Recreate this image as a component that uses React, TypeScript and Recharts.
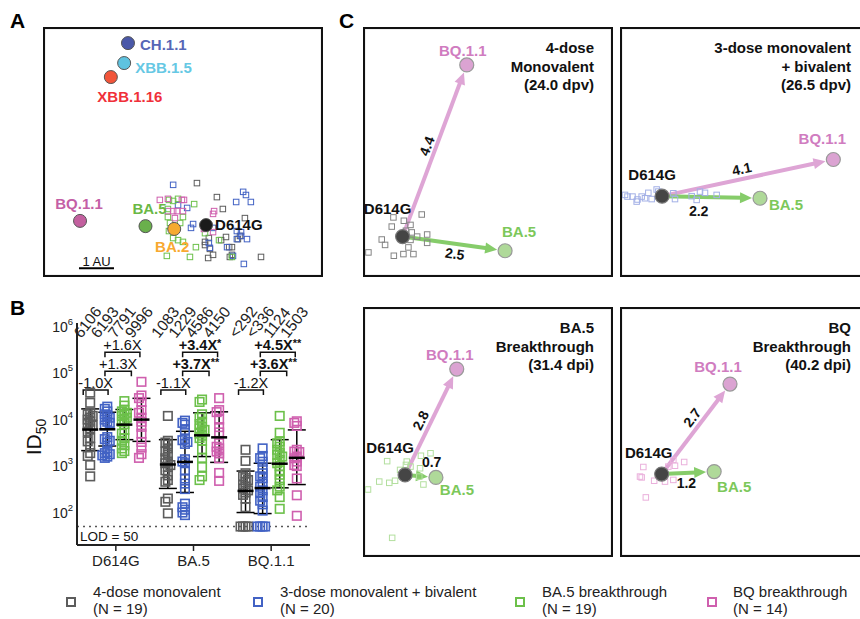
import React from "react";
import { ScatterChart, Scatter, XAxis, YAxis, CartesianGrid, ReferenceLine, ErrorBar } from "recharts";

const FONT = "'Liberation Sans', Arial, Helvetica, sans-serif";

// ---------- panel A: antigenic map (antigenic units) ----------
const mapAntigens = ["CH.1.1", "XBB.1.5", "XBB.1.16", "BQ.1.1", "BA.5", "BA.2", "D614G"];
const mapAntigenX = [1.4, 1.29, 0.91, 0.03, 1.9, 2.72, 3.63];
const mapAntigenY = [6.54, 5.97, 5.57, 1.46, 1.31, 1.23, 1.34];

const mapMonoSera = [[3.37, 2.54], [3.94, 2.14], [4.11, 1.8], [4.74, 1.54], [3.71, 0.97], [3.6, 0.77], [4.06, 0.91], [4.2, 1.0], [4.54, 0.94], [4.29, 0.71], [4.37, 0.71], [3.83, 0.49], [3.69, 0.4], [4.37, 0.49], [4.31, 0.43], [5.2, 0.43], [3.6, 0.86], [3.74, 0.66], [4.6, 1.03]];
const mapBiSera = [[2.69, 2.49], [3.09, 1.83], [3.26, 1.37], [3.2, 1.26], [4.49, 2.0], [4.69, 2.29], [4.77, 2.2], [4.91, 2.0], [4.51, 1.17], [4.63, 1.03], [4.8, 0.94], [4.51, 0.94], [3.71, 0.83], [3.74, 0.69], [4.4, 0.46], [4.71, 0.23], [3.83, 1.26], [2.83, 1.91], [4.63, 1.14], [4.23, 0.71]];
const mapBa5Sera = [[2.57, 2.06], [2.69, 2.03], [2.83, 2.09], [3.29, 1.94], [2.54, 1.8], [2.54, 1.57], [2.6, 1.4], [2.89, 1.4], [2.97, 1.57], [2.57, 1.17], [2.69, 0.97], [2.83, 0.91], [2.97, 0.86], [3.34, 0.71], [3.17, 0.43], [2.51, 0.46], [3.6, 1.11], [4.0, 0.91], [4.37, 0.43]];
const mapBqSera = [[2.31, 2.06], [2.54, 2.09], [2.94, 2.06], [3.0, 2.06], [2.54, 1.74], [2.69, 1.74], [2.8, 1.74], [2.97, 1.74], [2.74, 1.54], [3.86, 1.74], [3.83, 1.66], [3.57, 1.23], [3.83, 1.14], [2.74, 1.26]];

// ---------- panel B: ID50 titers ----------
const categories = ["D614G", "BA.5", "BQ.1.1"];
const groups = ["4-dose monovalent", "3-dose monovalent + bivalent", "BA.5 breakthrough", "BQ breakthrough"];
const groupN = [19, 20, 19, 14];

const monoTiters = [
  [38000, 23000, 14000, 13000, 12000, 11000, 10000, 9000, 8000, 7500, 6500, 5500, 4000, 3400, 2600, 1900, 1650, 1050, 600],
  [12000, 3500, 3200, 2900, 2400, 2050, 1740, 1470, 1250, 1150, 1050, 950, 810, 630, 500, 460, 200, 170, 96],
  [2240, 1290, 700, 600, 550, 500, 450, 400, 360, 330, 300, 270, 240, 200, 130, 50, 50, 50, 50],
];
const biTiters = [
  [19000, 17000, 15000, 13000, 12000, 11000, 10000, 9000, 8500, 7500, 4200, 3800, 3500, 3200, 2000, 1900, 1800, 1700, 1600, 1500],
  [9500, 8500, 7800, 6000, 3800, 3600, 3300, 3000, 1400, 1250, 1150, 800, 540, 420, 320, 155, 130, 115, 100, 88],
  [2400, 1650, 1480, 1240, 900, 700, 600, 550, 420, 360, 300, 260, 215, 180, 150, 110, 50, 50, 50, 50],
];
const ba5Titers = [
  [25000, 20000, 16000, 15000, 14000, 13000, 12000, 11000, 10000, 9000, 8000, 6000, 5000, 4000, 3500, 2800, 2400, 2100, 1900],
  [27000, 24000, 13000, 11000, 9000, 8000, 7000, 6500, 6000, 5500, 5000, 4500, 4000, 3500, 2300, 1500, 950, 600, 500],
  [12000, 5200, 3400, 3100, 2600, 2240, 1900, 1750, 1600, 1350, 1150, 1000, 810, 650, 500, 360, 300, 215, 120],
];
const bqTiters = [
  [65000, 33000, 29000, 24000, 16000, 14000, 11000, 9000, 7000, 5000, 3300, 2500, 1800, 1500],
  [29000, 16000, 14500, 10000, 6900, 5300, 3100, 2600, 2400, 2050, 1870, 1470, 710, 480],
  [9200, 8500, 7300, 2240, 2050, 2000, 1600, 1470, 1250, 1050, 1000, 540, 235, 85],
];

const gmtLabels = [["6106", "6193", "7791", "9996"], ["1083", "1229", "4586", "4150"], ["<292", "<336", "1124", "1503"]];
const gmtValues = [[6106, 6193, 7791, 9996], [1083, 1229, 4586, 4150], [292, 336, 1124, 1503]];
const sdLow = [[2150, 2700, 3700, 3400], [330, 270, 1600, 1200], [100, 95, 340, 400]];
const sdHigh = [[17000, 14400, 16500, 28700], [3700, 5600, 14000, 14700], [780, 1150, 3700, 6000]];

const foldLabels = [["-1.0X", "+1.3X", "+1.6X"], ["-1.1X", "+3.7X", "+3.4X"], ["-1.2X", "+3.6X", "+4.5X"]];
const foldStars = [["", "", ""], ["", "**", "*"], ["", "**", "**"]];
const lod = 50;

// ---------- panel C: per-cohort maps ----------
const cAntigens = ["D614G", "BQ.1.1", "BA.5"];
const monoMapX = [0.95, 2.49, 3.41];
const monoMapY = [0.97, 5.09, 0.63];
const biMapX = [1.01, 5.12, 3.36];
const biMapY = [1.94, 2.82, 1.89];
const ba5MapX = [1.01, 2.25, 1.75];
const ba5MapY = [1.97, 4.51, 1.91];
const bqMapX = [1.0, 2.64, 2.26];
const bqMapY = [1.99, 4.15, 2.05];
const monoDist = ["4.4", "2.5"];
const biDist = ["4.1", "2.2"];
const ba5Dist = ["2.8", "0.7"];
const bqDist = ["2.7", "1.2"];

const monoMapSera = [[0.73, 1.43], [0.98, 1.35], [0.69, 1.21], [1.14, 1.25], [1.41, 1.5], [1.17, 1.07], [1.54, 1.02], [0.45, 0.9], [0.53, 0.77], [1.54, 0.82], [1.14, 0.89], [1.09, 0.71], [1.21, 0.55], [0.97, 0.55], [0.74, 0.51], [0.13, 0.59], [1.3, 0.97], [1.03, 1.11]];
const biMapSera = [[0.12, 1.97], [0.18, 1.93], [0.3, 1.93], [0.42, 1.86], [0.52, 1.93], [0.68, 2.02], [0.76, 1.87], [0.88, 2.1], [0.92, 2.05], [1.32, 1.87], [1.72, 1.94], [1.84, 1.85], [1.92, 2.05], [2.04, 2.02], [2.32, 1.97], [0.4, 1.81], [0.6, 1.89], [1.28, 2.01]];
const ba5MapSera = [[0.58, 2.3], [1.05, 2.29], [0.89, 2.09], [1.39, 2.43], [1.62, 2.49], [1.37, 2.13], [1.14, 2.17], [0.39, 1.81], [0.63, 1.78], [0.77, 1.83], [0.12, 1.62], [1.45, 1.74], [1.35, 1.93], [0.7, 0.46], [1.03, 2.21]];
const bqMapSera = [[0.56, 2.16], [1.54, 2.28], [1.32, 2.19], [1.16, 2.17], [0.48, 1.93], [0.52, 1.91], [0.82, 1.83], [1.08, 1.81], [1.28, 1.85], [0.62, 1.43], [1.28, 2.33]];

// ---------- styles ----------
const groupColors = ["#5c5c5c", "#4262c4", "#6cc04a", "#cf5fae"];
const groupOffsets = [-0.33, -0.11, 0.11, 0.33];

const mapStyle: Record<string, any> = {
  "CH.1.1": { fill: "#4a58a8", text: "#5666b6", dx: 12, dy: 7, anchor: "start" },
  "XBB.1.5": { fill: "#5ec3e0", text: "#66c8e4", dx: 11, dy: 10, anchor: "start" },
  "XBB.1.16": { fill: "#f2553a", text: "#f0303a", dx: 19, dy: 25, anchor: "middle" },
  "BQ.1.1": { fill: "#c3609f", text: "#c45fa6", dx: -1, dy: -12, anchor: "middle" },
  "BA.5": { fill: "#6ab04c", text: "#6ab845", dx: 4, dy: -12, anchor: "middle" },
  "BA.2": { fill: "#f5aa30", text: "#f8a930", dx: -2, dy: 23, anchor: "middle" },
  D614G: { fill: "#1b1b1b", text: "#111", dx: 9, dy: 5, anchor: "start" },
};

const cCircle: Record<string, any> = {
  D614G: { fill: "#454545", stroke: "#777", text: "#111" },
  "BQ.1.1": { fill: "#dba3d2", stroke: "#999", text: "#d07cc0" },
  "BA.5": { fill: "#afd999", stroke: "#999", text: "#7cc85a" },
};
const arrowColors = ["#dea5d5", "#86cc6a"];

const toPts = (arr: number[][]) => arr.map(([x, y]) => ({ x, y }));

const square = (color: string, size: number, sw: number) => (p: any) => {
  const { cx, cy } = p;
  if (cx == null || cy == null) return null;
  return <rect x={cx - size / 2} y={cy - size / 2} width={size} height={size} fill="none" stroke={color} strokeWidth={sw} />;
};

// simple deterministic swarm so squares in a column don't sit exactly on top of each other
function swarm(values: number[], base: number) {
  const placed: { k: number; l: number }[] = [];
  const out: any[] = new Array(values.length);
  const order = values.map((_, i) => i).sort((a, b) => values[b] - values[a]);
  for (const i of order) {
    const l = Math.log10(values[i]);
    let k0 = 0;
    for (const k of [0, -1, 1, -2, 2]) {
      if (!placed.some((p) => p.k === k && Math.abs(p.l - l) < 0.08)) {
        k0 = k;
        break;
      }
    }
    placed.push({ k: k0, l });
    out[i] = { x: base + k0 * 0.032, y: values[i] };
  }
  return out;
}

// ---------- panel A ----------
function PanelA() {
  const antigens = mapAntigens.map((name, i) => ({ name, x: mapAntigenX[i], y: mapAntigenY[i] }));
  const sera = [mapMonoSera, mapBiSera, mapBa5Sera, mapBqSera];
  const antigenShape = (p: any) => {
    const s = mapStyle[p.payload.name];
    return (
      <g>
        <circle cx={p.cx} cy={p.cy} r={6.5} fill={s.fill} stroke="#555" strokeWidth={1} />
        <text x={p.cx + s.dx} y={p.cy + s.dy} textAnchor={s.anchor} fill={s.text} fontSize={15} fontWeight={700} fontFamily={FONT}>
          {p.payload.name}
        </text>
      </g>
    );
  };
  const scaleBar = (p: any) => (
    <g>
      <line x1={p.x1} y1={p.y1} x2={p.x2} y2={p.y2} stroke="#000" strokeWidth={2} />
      <text x={(p.x1 + p.x2) / 2} y={p.y1 - 2} textAnchor="middle" fontSize={13} fontFamily={FONT} fill="#111">1 AU</text>
    </g>
  );
  return (
    <div style={{ position: "absolute", left: 43, top: 27, width: 280, height: 250, border: "2px solid #111", boxSizing: "border-box" }}>
      <ScatterChart width={276} height={246} margin={{ top: 0, right: 0, bottom: 0, left: 0 }}>
        <CartesianGrid stroke="#e3e3e3" />
        <XAxis type="number" dataKey="x" domain={[-0.971, 6.914]} ticks={[0, 1, 2, 3, 4, 5, 6]} height={0} tick={false} axisLine={false} tickLine={false} allowDataOverflow />
        <YAxis type="number" dataKey="y" domain={[-0.086, 6.943]} ticks={[0, 1, 2, 3, 4, 5, 6]} width={0} tick={false} axisLine={false} tickLine={false} allowDataOverflow />
        <ReferenceLine segment={[{ x: 0, y: 0.11 }, { x: 1, y: 0.11 }]} shape={scaleBar} />
        {sera.map((s, g) => (
          <Scatter key={g} data={toPts(s)} shape={square(groupColors[g], 5.5, 1)} isAnimationActive={false} />
        ))}
        <Scatter data={antigens} shape={antigenShape} isAnimationActive={false} />
      </ScatterChart>
    </div>
  );
}

// ---------- panel B ----------
const YTick = (p: any) => {
  const { x, y, payload } = p;
  const v = payload.value;
  if (v === lod) return <line x1={x - 1} x2={x + 4} y1={y} y2={y} stroke="#111" strokeWidth={2.5} />;
  const e = Math.round(Math.log10(v));
  return (
    <text x={x} y={y} textAnchor="end" fontFamily={FONT} fill="#222">
      <tspan fontSize={14} dy={5}>10</tspan>
      <tspan fontSize={9.5} dy={-7}>{e}</tspan>
    </text>
  );
};

const bracketLevels = [43600, 110000, 282000];
const bracketSpans = [[-0.42, -0.1], [-0.14, 0.2], [-0.14, 0.31]];

function PanelB() {
  const titers = [monoTiters, biTiters, ba5Titers, bqTiters];
  const seriesData = titers.map((byCat, g) => byCat.flatMap((vals, c) => swarm(vals, c + groupOffsets[g])));
  const meanData = gmtValues.flatMap((row, c) =>
    row.map((m, g) => ({ x: c + groupOffsets[g], y: m, err: [m - sdLow[c][g], sdHigh[c][g] - m], label: gmtLabels[c][g] }))
  );
  const meanShape = (p: any) => {
    const { cx, cy, payload } = p;
    const lx = cx - 9;
    const ly = 39;
    return (
      <g>
        <line x1={cx - 8} x2={cx + 8} y1={cy} y2={cy} stroke="#000" strokeWidth={2.5} />
        <text x={lx} y={ly} transform={`rotate(-52 ${lx} ${ly})`} fontSize={15.5} fontFamily={FONT} fill="#222">{payload.label}</text>
      </g>
    );
  };
  const bracketShape = (label: string, stars: string) => (p: any) => {
    const { x1, y1, x2 } = p;
    const bold = stars.length > 0;
    return (
      <g>
        <path d={`M${x1},${y1 + 5}V${y1}H${x2}V${y1 + 5}`} fill="none" stroke="#111" strokeWidth={1.5} />
        <text x={(x1 + x2) / 2} y={y1 - 2} textAnchor="middle" fontSize={14.5} fontWeight={bold ? 700 : 400} fontFamily={FONT} fill="#111">
          {label}
          {stars && <tspan fontSize={11} dy={-3}>{stars}</tspan>}
        </text>
      </g>
    );
  };
  return (
    <div style={{ position: "absolute", left: 0, top: 300 }}>
      <ScatterChart width={330} height={280} margin={{ top: 23, right: 20, bottom: 0, left: 0 }}>
        <XAxis
          type="number"
          dataKey="x"
          domain={[-0.5, 2.5]}
          ticks={[0, 1, 2]}
          tickFormatter={(v: number) => categories[v]}
          axisLine={{ stroke: "#222", strokeWidth: 2 }}
          tickLine={{ stroke: "#222", strokeWidth: 1.5 }}
          tickSize={6}
          tickMargin={4}
          height={35}
          tick={{ fill: "#222", fontSize: 15, fontFamily: FONT }}
        />
        <YAxis
          type="number"
          dataKey="y"
          scale="log"
          domain={[20, 1200000]}
          ticks={[lod, 100, 1000, 10000, 100000, 1000000]}
          width={77}
          tick={<YTick />}
          tickLine={false}
          tickSize={0}
          tickMargin={4}
          axisLine={{ stroke: "#222", strokeWidth: 2 }}
        />
        <ReferenceLine y={lod} stroke="#555" strokeDasharray="2 4" strokeWidth={1.5} />
        {foldLabels.flatMap((row, c) =>
          row.map((lab, k) => (
            <ReferenceLine
              key={`${c}-${k}`}
              segment={[{ x: c + bracketSpans[k][0], y: bracketLevels[k] }, { x: c + bracketSpans[k][1], y: bracketLevels[k] }]}
              shape={bracketShape(lab, foldStars[c][k])}
            />
          ))
        )}
        {seriesData.map((d, g) => (
          <Scatter key={g} data={d} shape={square(groupColors[g], 8.5, 1.6)} isAnimationActive={false} />
        ))}
        <Scatter data={meanData} shape={meanShape} isAnimationActive={false}>
          <ErrorBar dataKey="err" direction="y" width={9} stroke="#000" strokeWidth={1.5} />
        </Scatter>
      </ScatterChart>
      <div style={{ position: "absolute", left: 35, top: 137, transform: "translate(-50%,-50%) rotate(-90deg)", fontSize: 21, fontFamily: FONT, color: "#111", whiteSpace: "nowrap" }}>
        ID<span style={{ fontSize: 14, verticalAlign: -5 }}>50</span>
      </div>
      <div style={{ position: "absolute", left: 80, top: 229, fontSize: 13.5, fontFamily: FONT, color: "#111" }}>LOD = 50</div>
    </div>
  );
}

// ---------- panel C ----------
const cPanels = [
  { left: 363, top: 27, xs: monoMapX, ys: monoMapY, sera: monoMapSera, dist: monoDist, seraColor: "#858585", title: ["4-dose", "Monovalent", "(24.0 dpv)"], lab: [[-15, -28], [-4, -14], [14, -19]], arr: [{ off: 9, along: 1.6, rot: true }, { off: -10, along: 2.4, rot: true }] },
  { left: 620, top: 27, xs: biMapX, ys: biMapY, sera: biMapSera, dist: biDist, seraColor: "#a3b0e6", title: ["3-dose monovalent", "+ bivalent", "(26.5 dpv)"], lab: [[-10, -22], [-11, -21], [26, 6]], arr: [{ off: 10, along: -4, rot: true }, { off: -14, along: -12, rot: true }] },
  { left: 363, top: 307, xs: ba5MapX, ys: ba5MapY, sera: ba5MapSera, dist: ba5Dist, seraColor: "#b3df9e", title: ["BA.5", "Breakthrough", "(31.4 dpi)"], lab: [[-15, -27], [-7, -15], [21, 12]], arr: [{ off: 10, along: -3, rot: true }, { off: 15, along: 10, rot: false }] },
  { left: 620, top: 307, xs: bqMapX, ys: bqMapY, sera: bqMapSera, dist: bqDist, seraColor: "#eab0dc", title: ["BQ", "Breakthrough", "(40.2 dpi)"], lab: [[-13, -22], [-12, -18], [20, 15]], arr: [{ off: 10, along: 7, rot: true }, { off: -10.5, along: -2, rot: false }] },
];

const arrowShape = (color: string, text: string, s: any) => (p: any) => {
  const { x1, y1, x2, y2 } = p;
  if ([x1, y1, x2, y2].some((v) => v == null || Number.isNaN(v))) return null;
  const dx = x2 - x1;
  const dy = y2 - y1;
  const len = Math.hypot(dx, dy) || 1;
  const ux = dx / len;
  const uy = dy / len;
  const nx = uy;
  const ny = -ux;
  const tx = x2 - ux * 8;
  const ty = y2 - uy * 8;
  const bx = tx - ux * 12;
  const by = ty - uy * 12;
  const mx = (x1 + x2) / 2 + ux * s.along + nx * s.off;
  const my = (y1 + y2) / 2 + uy * s.along + ny * s.off;
  const ang = s.rot ? (Math.atan2(dy, dx) * 180) / Math.PI : 0;
  return (
    <g>
      <line x1={x1} y1={y1} x2={bx + ux * 2} y2={by + uy * 2} stroke={color} strokeWidth={4} />
      <polygon points={`${tx},${ty} ${bx + nx * 5.5},${by + ny * 5.5} ${bx - nx * 5.5},${by - ny * 5.5}`} fill={color} />
      <text x={mx} y={my} transform={`rotate(${ang} ${mx} ${my})`} textAnchor="middle" dominantBaseline="central" fontSize={14} fontWeight={700} fontFamily={FONT} fill="#111">
        {text}
      </text>
    </g>
  );
};

function MapPanel({ cfg }: { cfg: any }) {
  const antigens = cAntigens.map((name, i) => ({ name, x: cfg.xs[i], y: cfg.ys[i], i }));
  const circleShape = (p: any) => {
    const st = cCircle[p.payload.name];
    const [dx, dy] = cfg.lab[p.payload.i];
    return (
      <g>
        <circle cx={p.cx} cy={p.cy} r={7} fill={st.fill} stroke={st.stroke} strokeWidth={1.2} />
        <text x={p.cx + dx} y={p.cy + dy} textAnchor="middle" dominantBaseline="central" fill={st.text} fontSize={15} fontWeight={700} fontFamily={FONT}>
          {p.payload.name}
        </text>
      </g>
    );
  };
  return (
    <div style={{ position: "absolute", left: cfg.left, top: cfg.top, width: 250, height: 250, border: "2px solid #111", boxSizing: "border-box" }}>
      <ScatterChart width={246} height={246} margin={{ top: 0, right: 0, bottom: 0, left: 0 }}>
        <CartesianGrid stroke="#e0e0e0" />
        <XAxis type="number" dataKey="x" domain={[0.048, 5.952]} ticks={[1, 2, 3, 4, 5]} height={0} tick={false} axisLine={false} tickLine={false} allowDataOverflow />
        <YAxis type="number" dataKey="y" domain={[0.048, 5.952]} ticks={[1, 2, 3, 4, 5]} width={0} tick={false} axisLine={false} tickLine={false} allowDataOverflow />
        <Scatter data={toPts(cfg.sera)} shape={square(cfg.seraColor, 5.5, 1)} isAnimationActive={false} />
        {[1, 2].map((t, k) => (
          <ReferenceLine
            key={t}
            segment={[{ x: cfg.xs[0], y: cfg.ys[0] }, { x: cfg.xs[t], y: cfg.ys[t] }]}
            shape={arrowShape(arrowColors[k], cfg.dist[k], cfg.arr[k])}
          />
        ))}
        <Scatter data={antigens} shape={circleShape} isAnimationActive={false} />
      </ScatterChart>
      <div style={{ position: "absolute", right: 17, top: 10, textAlign: "right", fontSize: 15, lineHeight: "18.5px", fontWeight: 700, fontFamily: FONT, color: "#111", whiteSpace: "nowrap" }}>
        {cfg.title.map((t: string) => (
          <div key={t}>{t}</div>
        ))}
      </div>
    </div>
  );
}

// ---------- legend ----------
const legendMarkX = [70, 257, 519, 711];
const legendTextX = [93, 280, 542, 733];

function Legend() {
  return (
    <>
      {groups.map((g, i) => (
        <React.Fragment key={g}>
          <div style={{ position: "absolute", left: legendMarkX[i] - 4.5, top: 597, width: 10, height: 10, border: `2px solid ${groupColors[i]}`, boxSizing: "border-box" }} />
          <div style={{ position: "absolute", left: legendTextX[i], top: 584, fontSize: 15, lineHeight: "16.5px", fontFamily: FONT, color: "#222", whiteSpace: "nowrap" }}>
            <div>{g}</div>
            <div>(N = {groupN[i]})</div>
          </div>
        </React.Fragment>
      ))}
    </>
  );
}

const letterStyle: React.CSSProperties = { position: "absolute", fontSize: 21, lineHeight: "21px", fontWeight: 700, fontFamily: FONT, color: "#000" };

export default function App() {
  return (
    <div style={{ position: "absolute", left: 0, top: 0, width: 860, height: 619, overflow: "hidden", background: "#fff", fontFamily: FONT }}>
      <div style={{ ...letterStyle, left: 10, top: 10 }}>A</div>
      <div style={{ ...letterStyle, left: 10, top: 297 }}>B</div>
      <div style={{ ...letterStyle, left: 339, top: 10 }}>C</div>
      <PanelA />
      <PanelB />
      {cPanels.map((c, i) => (
        <MapPanel key={i} cfg={c} />
      ))}
      <Legend />
    </div>
  );
}
